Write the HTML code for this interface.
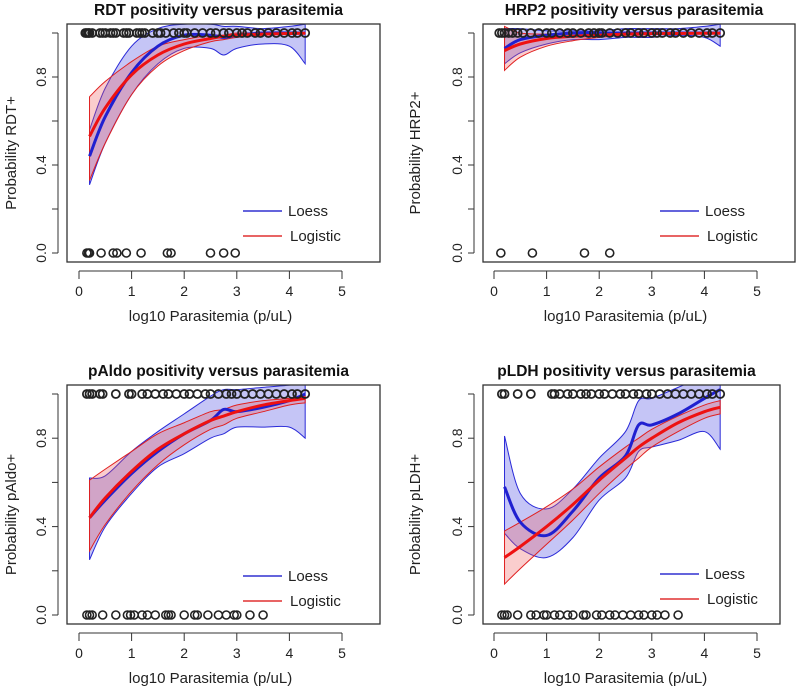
<!DOCTYPE html>
<html><head><meta charset="utf-8"><style>
html,body{margin:0;padding:0;background:#fff;}
svg{display:block;font-family:"Liberation Sans",Arial,sans-serif;}
</style></head><body>
<svg id="chart" width="797" height="692"></svg>
<script>
const xGrid=[0.2,0.5,1,1.5,2,2.5,2.75,3,3.5,4,4.3];
const xTicks=[0,1,2,3,4,5];
const yTicks=[0,0.2,0.4,0.6,0.8,1.0];
const yTickLabels=["0.0","","0.4","","0.8",""];
// RDT
const rdtLoess=[0.44,0.62,0.82,0.94,0.99,0.99,0.98,0.99,1.0,1.0,1.0];
const rdtLoessUp=[0.56,0.75,0.94,1.02,1.04,1.04,1.03,1.03,1.02,1.03,1.04];
const rdtLoessLo=[0.31,0.5,0.72,0.86,0.93,0.93,0.90,0.93,0.95,0.94,0.86];
const rdtLogit=[0.53,0.66,0.81,0.90,0.95,0.975,0.985,0.99,0.995,0.998,0.999];
const rdtLogitUp=[0.71,0.78,0.87,0.94,0.97,0.99,0.99,1.0,1.0,1.0,1.0];
const rdtLogitLo=[0.33,0.50,0.72,0.85,0.92,0.96,0.97,0.98,0.99,0.995,0.997];
const rdtPos=[0.12,0.15,0.18,0.2,0.25,0.4,0.45,0.5,0.6,0.65,0.7,0.85,0.9,0.95,1.1,1.15,1.2,1.25,1.4,1.5,1.55,1.65,1.8,1.9,2.0,2.05,2.2,2.35,2.5,2.6,2.75,2.85,3.0,3.1,3.2,3.35,3.45,3.6,3.75,3.9,4.05,4.15,4.3];
const rdtNeg=[0.15,0.18,0.2,0.42,0.65,0.72,0.9,1.18,1.68,1.75,2.5,2.75,2.97];
// HRP2
const hrpLoess=[0.93,0.97,0.99,1.0,1.0,1.0,1.0,1.0,1.0,1.0,1.0];
const hrpLoessUp=[1.02,1.02,1.01,1.01,1.01,1.02,1.02,1.02,1.02,1.03,1.04];
const hrpLoessLo=[0.86,0.91,0.95,0.97,0.97,0.98,0.98,0.98,0.99,0.98,0.94];
const hrpLogit=[0.92,0.95,0.975,0.985,0.99,0.995,0.996,0.997,0.998,0.999,0.999];
const hrpLogitUp=[1.03,1.0,0.995,0.998,1,1,1,1,1,1,1];
const hrpLogitLo=[0.83,0.89,0.94,0.965,0.98,0.99,0.99,0.993,0.995,0.997,0.998];
const hrpPos=[0.1,0.15,0.2,0.28,0.35,0.45,0.55,0.7,0.85,1.0,1.1,1.25,1.4,1.5,1.65,1.8,1.9,2.0,2.05,2.2,2.35,2.5,2.6,2.75,2.85,3.0,3.1,3.2,3.35,3.45,3.6,3.75,3.9,4.05,4.15,4.3];
const hrpNeg=[0.13,0.73,1.72,2.2];
// pAldo
const aldLoess=[0.44,0.52,0.64,0.74,0.82,0.88,0.93,0.92,0.94,0.97,1.0];
const aldLoessUp=[0.62,0.63,0.74,0.83,0.91,0.99,1.02,1.02,1.03,1.04,1.05];
const aldLoessLo=[0.25,0.40,0.55,0.67,0.73,0.80,0.82,0.85,0.85,0.85,0.80];
const aldLogit=[0.44,0.53,0.65,0.75,0.82,0.88,0.90,0.92,0.95,0.97,0.98];
const aldLogitUp=[0.61,0.66,0.74,0.82,0.87,0.92,0.93,0.95,0.97,0.98,0.99];
const aldLogitLo=[0.29,0.41,0.56,0.68,0.77,0.84,0.86,0.89,0.92,0.95,0.96];
const aldPos=[0.15,0.2,0.25,0.4,0.45,0.7,0.95,1.0,1.2,1.3,1.45,1.6,1.7,1.85,2.0,2.1,2.25,2.4,2.5,2.65,2.8,2.9,3.0,3.15,3.3,3.45,3.6,3.75,3.9,4.05,4.15,4.3];
const aldNeg=[0.15,0.2,0.25,0.45,0.7,0.92,0.98,1.05,1.2,1.3,1.45,1.65,1.7,1.75,2.0,2.2,2.25,2.45,2.65,2.8,2.95,3.0,3.25,3.5];
// pLDH
const ldhLoess=[0.58,0.42,0.36,0.47,0.62,0.72,0.86,0.86,0.91,0.98,1.02];
const ldhLoessUp=[0.81,0.55,0.48,0.57,0.71,0.83,0.97,0.98,1.03,1.08,1.1];
const ldhLoessLo=[0.37,0.30,0.26,0.35,0.52,0.62,0.74,0.76,0.79,0.83,0.75];
const ldhLogit=[0.26,0.31,0.40,0.50,0.61,0.71,0.76,0.80,0.87,0.92,0.94];
const ldhLogitUp=[0.38,0.42,0.49,0.57,0.67,0.76,0.80,0.84,0.90,0.95,0.97];
const ldhLogitLo=[0.14,0.21,0.32,0.43,0.55,0.66,0.71,0.76,0.83,0.89,0.91];
const ldhPos=[0.15,0.2,0.45,0.7,1.1,1.15,1.25,1.4,1.5,1.65,1.75,1.85,2.0,2.1,2.25,2.4,2.5,2.65,2.75,2.9,3.0,3.15,3.3,3.45,3.6,3.75,3.9,4.05,4.15,4.3];
const ldhNeg=[0.15,0.2,0.25,0.45,0.7,0.8,0.95,1.0,1.15,1.25,1.4,1.5,1.7,1.75,1.95,2.05,2.2,2.3,2.45,2.6,2.75,2.85,3.0,3.1,3.25,3.5];

const panels=[
 {id:"rdt",title:"RDT positivity versus parasitemia",ylab:"Probability RDT+",bx:67,bw:313,by:24,bh:238,x0:79,y1:33,y0:253,ylx:16,loess:rdtLoess,lu:rdtLoessUp,ll:rdtLoessLo,lg:rdtLogit,gu:rdtLogitUp,gl:rdtLogitLo,pos:rdtPos,neg:rdtNeg,legY:211},
 {id:"hrp2",title:"HRP2 positivity versus parasitemia",ylab:"Probability HRP2+",bx:483,bw:312,by:24,bh:238,x0:494,y1:33,y0:253,ylx:420,loess:hrpLoess,lu:hrpLoessUp,ll:hrpLoessLo,lg:hrpLogit,gu:hrpLogitUp,gl:hrpLogitLo,pos:hrpPos,neg:hrpNeg,legY:211},
 {id:"paldo",title:"pAldo positivity versus parasitemia",ylab:"Probability pAldo+",bx:67,bw:313,by:385,bh:239,x0:79,y1:394,y0:615,ylx:16,loess:aldLoess,lu:aldLoessUp,ll:aldLoessLo,lg:aldLogit,gu:aldLogitUp,gl:aldLogitLo,pos:aldPos,neg:aldNeg,legY:576},
 {id:"pldh",title:"pLDH positivity versus parasitemia",ylab:"Probability pLDH+",bx:483,bw:297,by:385,bh:239,x0:494,y1:394,y0:615,ylx:420,loess:ldhLoess,lu:ldhLoessUp,ll:ldhLoessLo,lg:ldhLogit,gu:ldhLogitUp,gl:ldhLogitLo,pos:ldhPos,neg:ldhNeg,legY:574}
];
const NS="http://www.w3.org/2000/svg";
const svg=document.getElementById("chart");
function mk(tag,attrs,parent){const e=document.createElementNS(NS,tag);for(const k in attrs)e.setAttribute(k,attrs[k]);(parent||svg).appendChild(e);return e;}
// Catmull-Rom smooth path through points
function smooth(pts,move){
 let d=(move?"M":"L")+pts[0][0]+","+pts[0][1];
 for(let i=0;i<pts.length-1;i++){
  const p0=pts[Math.max(i-1,0)],p1=pts[i],p2=pts[i+1],p3=pts[Math.min(i+2,pts.length-1)];
  const c1x=p1[0]+(p2[0]-p0[0])/6,c1y=p1[1]+(p2[1]-p0[1])/6;
  const c2x=p2[0]-(p3[0]-p1[0])/6,c2y=p2[1]-(p3[1]-p1[1])/6;
  d+="C"+c1x+","+c1y+" "+c2x+","+c2y+" "+p2[0]+","+p2[1];
 }
 return d;
}
panels.forEach(p=>{
 const g=mk("g",{});
 
 
 const sx=v=>p.x0+v*52.6;
 const sy=v=>p.y0-(p.y0-p.y1)*v;
 const cp=mk("clipPath",{id:"c"+p.id},g);
 mk("rect",{x:p.bx,y:p.by,width:p.bw,height:p.bh},cp);
 const cg=mk("g",{"clip-path":"url(#c"+p.id+")"},g);
 const pts=arr=>xGrid.map((x,i)=>[sx(x),sy(arr[i])]);
 const band=(up,lo)=>smooth(pts(up),true)+smooth(pts(lo).reverse(),false)+"Z";
 const line=arr=>smooth(pts(arr),true);
 const lb=mk("path",{d:band(p.lu,p.ll),fill:"rgba(90,90,230,0.35)",stroke:"#2a2ad8","stroke-width":1},cg);
 
 
 const gb=mk("path",{d:band(p.gu,p.gl),fill:"rgba(240,90,90,0.3)",stroke:"#e02020","stroke-width":1},cg);
 
 
 const ll=mk("path",{d:line(p.loess),fill:"none",stroke:"#2020d0","stroke-width":3},cg);
 
 
 const gl=mk("path",{d:line(p.lg),fill:"none",stroke:"#ee1111","stroke-width":3},cg);
 
 
 p.pos.forEach(x=>{const c=mk("circle",{cx:sx(x),cy:sy(1),r:4,fill:"none",stroke:"#222","stroke-width":1.8},g);
  
  });
 p.neg.forEach(x=>{const c=mk("circle",{cx:sx(x),cy:sy(0),r:4,fill:"none",stroke:"#222","stroke-width":1.6},g);
  
  });
 const box=mk("rect",{x:p.bx,y:p.by,width:p.bw,height:p.bh,fill:"none",stroke:"#333","stroke-width":1.3},g);
 
 
 const ay=p.by+p.bh+9;
 const xa=mk("g",{},g);
 
 
 mk("line",{x1:sx(0),x2:sx(5),y1:ay,y2:ay,stroke:"#333"},xa);
 xTicks.forEach(t=>{mk("line",{x1:sx(t),x2:sx(t),y1:ay,y2:ay+8,stroke:"#333"},xa);
  const tx=mk("text",{x:sx(t),y:ay+25,"text-anchor":"middle","font-size":14,fill:"#222"},xa);tx.textContent=t;});
 const xl=mk("text",{x:sx(2.5),y:p.by+p.bh+59,"text-anchor":"middle","font-size":15,fill:"#222"},g);
 xl.textContent="log10 Parasitemia (p/uL)";
 
 
 const axx=p.bx-9;
 const ya=mk("g",{},g);
 
 
 mk("line",{x1:axx,x2:axx,y1:sy(0),y2:sy(1),stroke:"#333"},ya);
 yTicks.forEach((t,i)=>{mk("line",{x1:axx-6,x2:axx,y1:sy(t),y2:sy(t),stroke:"#333"},ya);
  if(yTickLabels[i]){const tx=mk("text",{x:0,y:0,transform:`translate(${axx-12},${sy(t)}) rotate(-90)`,"text-anchor":"middle","font-size":14,fill:"#222"},ya);tx.textContent=yTickLabels[i];}});
 const yl=mk("text",{x:0,y:0,transform:`translate(${p.ylx},${(p.by+p.by+p.bh)/2+10}) rotate(-90)`,"text-anchor":"middle","font-size":15,fill:"#222"},g);
 yl.textContent=p.ylab;
 
 
 const ti=mk("text",{x:p.bx+p.bw/2-5,y:p.by-9,"text-anchor":"middle","font-size":15.5,"font-weight":"bold",fill:"#111"},g);
 ti.textContent=p.title;
 
 
 const lgx=p.x0+(p.id==="rdt"||p.id==="paldo"?164:166);
 const lg=mk("g",{},g);
 
 
 [["Loess","#3030d0"],["Logistic","#e03030"]].forEach((e,i)=>{
  const yy=p.legY+i*25;
  mk("line",{x1:lgx,x2:lgx+39,y1:yy,y2:yy,stroke:e[1],"stroke-width":1.5},lg);
  const t=mk("text",{x:lgx+45+(i?2:0),y:yy+5,"font-size":15,fill:"#222"},lg);t.textContent=e[0];
 });
});
</script>
</body></html>
